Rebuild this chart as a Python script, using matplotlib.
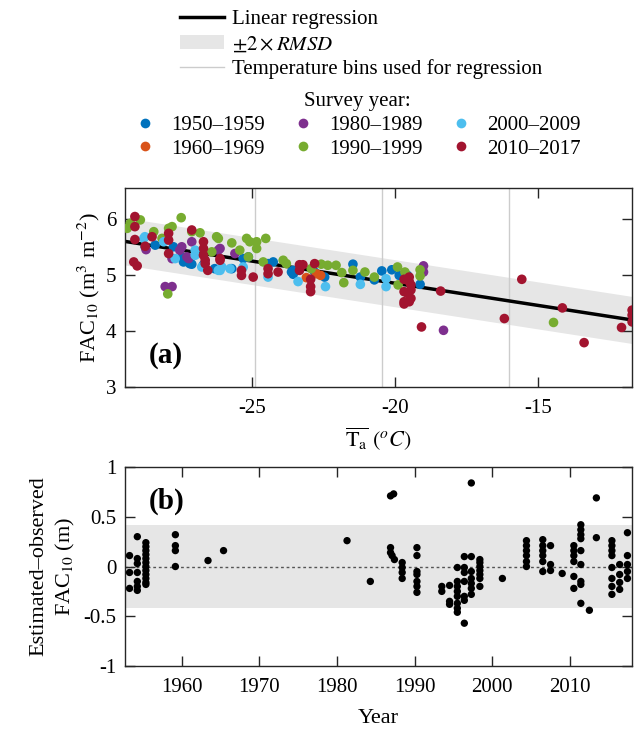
import numpy as np
import matplotlib
matplotlib.use("Agg")
import matplotlib.pyplot as plt
from matplotlib.lines import Line2D
from matplotlib.patches import Patch

plt.rcParams["font.family"] = ["Liberation Serif", "DejaVu Serif"]
plt.rcParams["mathtext.fontset"] = "stix"
plt.rcParams["axes.unicode_minus"] = False

# regression FAC10 = a + b * Ta, band = 2 x RMSD
REG_A, REG_B = 3.27, -0.079
TWO_RMSD = 0.42
BIN_EDGES = [-24.9, -20.45, -16.0]

DECADES = ["1950–1959", "1960–1969", "1980–1989", "1990–1999", "2000–2009", "2010–2017"]
COLORS = ["#0072BD", "#D95319", "#7E2F8E", "#77AC30", "#4DBEEE", "#A2142F"]

# (Ta, FAC10) per survey decade
t_1950 = [-28.74, -28.39, -27.75, -27.46, -27.40, -27.11, -26.70, -27.18, -26.31, -25.71,
          -25.13, -25.31, -24.44, -24.26, -23.62, -23.56, -23.56, -22.81, -22.46, -21.47,
          -21.21, -20.72, -20.46, -20.11, -19.85, -19.56, -19.12]
f_1950 = [5.50, 5.53, 5.50, 5.32, 5.23, 5.19, 5.18, 5.20, 5.11, 5.11,
          5.32, 5.29, 5.20, 5.23, 5.05, 5.08, 5.01, 5.05, 4.96, 5.19,
          4.96, 4.91, 5.07, 5.09, 4.99, 4.99, 4.83]
t_1960 = [-23.10, -22.60, -22.75]
f_1960 = [4.95, 4.99, 5.02]
t_1980 = [-28.71, -28.04, -27.80, -27.46, -27.28, -27.22, -27.53, -27.80, -27.11, -26.18,
          -26.12, -25.60, -19.00, -19.00, -18.30]
f_1980 = [5.45, 4.79, 4.79, 5.50, 5.32, 5.29, 5.44, 5.29, 5.59, 5.44,
          5.47, 5.38, 5.16, 5.05, 4.01]
t_1990 = [-29.37, -29.26, -28.91, -27.48, -28.44, -28.15, -27.92, -27.80, -27.11, -26.82,
          -27.95, -26.41, -26.18, -26.24, -25.71, -25.43, -25.19, -25.08, -24.84, -24.52,
          -24.84, -25.13, -24.61, -23.91, -23.80, -22.93, -22.58, -22.35, -22.06, -21.86,
          -21.79, -21.47, -21.05, -20.72, -19.91, -19.89, -19.65, -19.12, -19.12, -14.45]
f_1990 = [5.83, 5.92, 5.98, 6.02, 5.77, 5.65, 5.83, 5.86, 5.77, 5.75,
          4.66, 5.41, 5.65, 5.68, 5.57, 5.44, 5.65, 5.59, 5.59, 5.65,
          5.47, 5.32, 5.23, 5.26, 5.20, 5.11, 5.19, 5.17, 5.17, 5.04,
          4.86, 5.08, 5.05, 4.96, 5.14, 4.82, 5.05, 5.09, 4.98, 4.15]
t_2000 = [-28.79, -28.75, -28.09, -27.69, -26.99, -26.99, -26.76, -26.18, -26.06, -26.12,
          -25.77, -25.31, -24.44, -23.39, -22.43, -21.21, -20.31, -20.31]
f_2000 = [5.65, 5.68, 5.59, 5.29, 5.44, 5.35, 5.14, 5.08, 5.14, 5.08,
          5.11, 5.14, 4.96, 4.88, 4.79, 4.83, 4.93, 4.79]
t_2010 = [-29.10, -29.10, -29.10, -29.14, -29.02, -28.74, -28.50, -27.92, -27.92, -27.92,
          -27.11, -26.70, -26.70, -26.70, -26.64, -26.64, -26.55, -26.12, -26.12, -25.37,
          -25.37, -24.96, -24.44, -24.44, -24.09, -23.34, -23.22, -23.34, -22.81, -22.95,
          -22.95, -22.95, -19.68, -19.50, -19.50, -19.44, -19.44, -19.68, -19.56, -19.44,
          -19.68, -19.50, -19.68, -19.07, -18.40, -16.17, -15.56, -14.14, -13.38, -12.07,
          -11.70, -11.70, -11.70]
f_2010 = [6.04, 5.86, 5.63, 5.23, 5.16, 5.51, 5.68, 5.74, 5.62, 5.38,
          5.80, 5.59, 5.47, 5.35, 5.26, 5.20, 5.08, 5.29, 5.26, 5.08,
          4.99, 4.96, 5.11, 5.02, 5.05, 5.18, 5.18, 5.08, 5.20, 4.92,
          4.79, 4.70, 4.92, 4.96, 4.88, 4.82, 4.73, 4.70, 4.67, 4.58,
          4.52, 4.52, 4.48, 4.07, 4.71, 4.22, 4.92, 4.41, 3.79, 4.06,
          4.37, 4.28, 4.16]

# residuals (estimated - observed) vs survey year
res_year = ([1953.3] * 3 + [1954.3] * 7 + [1955.4] * 12 + [1959.2] * 4 + [1963.4, 1965.4]
            + [1981.3, 1984.3, 1986.9, 1987.3, 1997.3]
            + [1986.9, 1986.9, 1987.1, 1987.4] + [1988.4] * 4 + [1990.3] * 7
            + [1993.5] * 2 + [1994.5] * 3 + [1995.5] * 8 + [1996.4] * 7 + [1997.3] * 6
            + [1998.4] * 7 + [2001.3] + [2004.4] * 6 + [2006.5] * 6 + [2007.5] * 3
            + [2009.0] + [2010.5] * 6 + [2011.4] * 9 + [2012.5, 2013.4, 2013.4]
            + [2015.4] * 8 + [2016.4] * 4 + [2017.4] * 5)
res_val = ([0.11, -0.06, -0.22]
           + [0.30, 0.08, 0.03, -0.06, -0.15, -0.20, -0.24]
           + [0.24, 0.20, 0.16, 0.12, 0.08, 0.04, 0.0, -0.04, -0.08, -0.12, -0.16, -0.18]
           + [0.32, 0.21, 0.16, 0.0] + [0.06, 0.16]
           + [0.26, -0.15, 0.71, 0.73, 0.84]
           + [0.19, 0.14, 0.11, 0.07] + [0.04, -0.01, -0.06, -0.12]
           + [0.19, 0.11, -0.05, -0.08, -0.15, -0.20, -0.26]
           + [-0.20, -0.25] + [-0.19, -0.35, -0.38]
           + [-0.01, -0.15, -0.20, -0.25, -0.30, -0.37, -0.42, -0.46]
           + [0.10, -0.01, -0.06, -0.15, -0.30, -0.34, -0.57]
           + [0.10, -0.05, -0.12, -0.17, -0.22, -0.28]
           + [0.07, 0.04, 0.0, -0.04, -0.08, -0.12, -0.20] + [-0.12]
           + [0.26, 0.21, 0.16, 0.11, 0.05, 0.0]
           + [0.27, 0.21, 0.16, 0.11, 0.05, -0.05] + [0.21, 0.02, -0.04] + [-0.07]
           + [0.21, 0.16, 0.11, 0.05, -0.10, -0.22]
           + [0.42, 0.37, 0.32, 0.28, 0.16, 0.02, -0.15, -0.18, -0.37]
           + [-0.44, 0.69, 0.29]
           + [0.26, 0.21, 0.16, 0.11, -0.01, -0.12, -0.20, -0.28]
           + [0.02, -0.08, -0.16, -0.23]
           + [0.34, 0.11, 0.02, -0.05, -0.12])

FS = 15
AX_COLOR = "#262626"


def style_axes(ax):
    ax.tick_params(direction="in", top=True, right=True, length=7, width=1,
                   labelsize=FS, colors=AX_COLOR, labelcolor="black")
    ax.tick_params(axis="x", pad=9)
    ax.tick_params(axis="y", pad=6)
    for s in ax.spines.values():
        s.set_color(AX_COLOR)
        s.set_linewidth(1)


fig = plt.figure(figsize=(6.34, 7.30), dpi=100)
ax1 = fig.add_axes([0.197, 0.470, 0.800, 0.2725])
ax2 = fig.add_axes([0.197, 0.0877, 0.800, 0.2725])

# panel (a)
xr = np.array([-30.0, -11.0])
yr = REG_A + REG_B * xr
ax1.fill_between(xr, yr - TWO_RMSD, yr + TWO_RMSD, color="#E6E6E6", lw=0, zorder=0)
for b in BIN_EDGES:
    ax1.axvline(b, color="#CCCCCC", lw=1, zorder=1)
ax1.plot(xr, yr, color="black", lw=2.5, zorder=2)

series = [(t_1950, f_1950), (t_1960, f_1960), (t_1980, f_1980),
          (t_1990, f_1990), (t_2000, f_2000), (t_2010, f_2010)]
for (t, f), c in zip(series, COLORS):
    ax1.scatter(t, f, s=48, color=c, edgecolors="none", zorder=3)

ax1.set_xlim(-29.45, -11.7)
ax1.set_ylim(3, 6.55)
ax1.set_xticks([-25, -20, -15])
ax1.set_yticks([3, 4, 5, 6])
ax1.set_xlabel(r"$\overline{\mathrm{T}_\mathrm{a}}\ (^oC)$", fontsize=FS + 1, labelpad=5)
ax1.set_ylabel(r"FAC$_{10}$ (m$^3$ m$^{-2}$)", fontsize=FS + 1, labelpad=3)
ax1.text(0.048, 0.16, "(a)", transform=ax1.transAxes, fontsize=21,
         fontweight="bold", va="center")
style_axes(ax1)

# panel (b)
ax2.axhspan(-TWO_RMSD, TWO_RMSD, color="#E6E6E6", lw=0, zorder=0)
ax2.axhline(0, color="#555555", lw=1, ls=(0, (2, 2)), zorder=1)
ax2.scatter(res_year, res_val, s=28, color="black", edgecolors="none", zorder=3)
ax2.set_xlim(1952.7, 2018.0)
ax2.set_ylim(-1, 1)
ax2.set_xticks([1960, 1970, 1980, 1990, 2000, 2010])
ax2.set_yticks([-1, -0.5, 0, 0.5, 1])
ax2.set_yticklabels(["-1", "-0.5", "0", "0.5", "1"])
ax2.set_xlabel("Year", fontsize=FS + 1, labelpad=8)
ax2.set_ylabel("Estimated–observed\n" + r"FAC$_{10}$ (m)", fontsize=FS + 1,
               labelpad=5, linespacing=1.3)
ax2.text(0.048, 0.83, "(b)", transform=ax2.transAxes, fontsize=21,
         fontweight="bold", va="center")
style_axes(ax2)

# legends
h1 = [Line2D([], [], color="black", lw=2.5),
      Patch(facecolor="#E6E6E6", edgecolor="none"),
      Line2D([], [], color="#CCCCCC", lw=1)]
l1 = ["Linear regression", r"$\pm2\times RMSD$", "Temperature bins used for regression"]
leg1 = fig.legend(h1, l1, loc="upper left", bbox_to_anchor=(0.270, 0.998),
                  frameon=False, fontsize=FS, handlelength=2.15, handletextpad=0.35,
                  labelspacing=0.25, borderaxespad=0)

h2 = [Line2D([], [], ls="none", marker="o", markersize=7, color=c, markeredgewidth=0)
      for c in COLORS]
leg2 = fig.legend(h2, DECADES, loc="upper center", bbox_to_anchor=(0.564, 0.885),
                  ncol=3, frameon=False, fontsize=FS, title="Survey year:",
                  title_fontsize=FS, handlelength=1.0, handletextpad=0.75,
                  columnspacing=1.35, labelspacing=0.2, borderaxespad=0)

fig.savefig("out.png", dpi=100)
